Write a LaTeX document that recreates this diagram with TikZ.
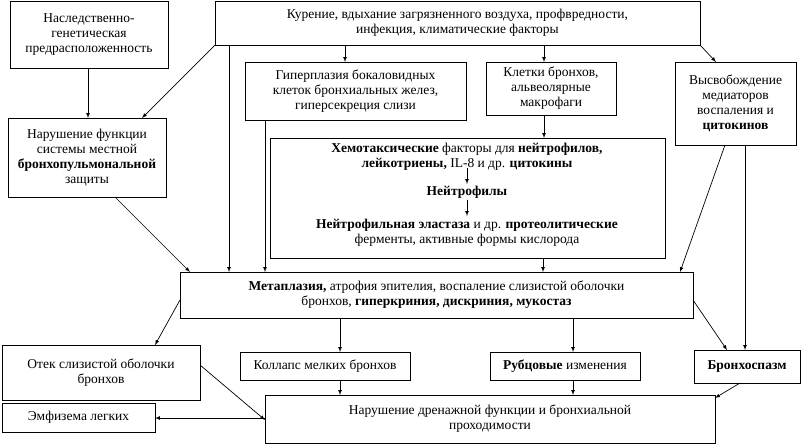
\documentclass[tikz,border=0pt]{standalone}
\usepackage{fontspec}
\setmainfont{Liberation Serif}
\begin{document}
\begin{tikzpicture}[x=1pt,y=-1pt,
 ar/.style={-latex,line width=0.7pt}]
\def\F{\fontsize{13.5}{15}\selectfont}
\useasboundingbox (0,0) rectangle (808,445);
\def\B#1#2#3#4#5#6{\draw[line width=0.9pt] (#2,#3) rectangle (#4,#5); \node[align=center,font=\F,inner sep=0pt] (#1) at ({(#2+#4)/2},{(#3+#5)/2}) {#6};}
\B{nasl}{10}{1}{168}{68}{Наследственно-\\генетическая\\предрасположенность}
\B{kur}{215}{1}{700}{45}{Курение, вдыхание загрязненного воздуха, профвредности,\\инфекция, климатические факторы}
\B{gip}{245}{62}{466}{120}{Гиперплазия бокаловидных\\клеток бронхиальных желез,\\гиперсекреция слизи}
\B{klet}{486}{62}{616}{115}{Клетки бронхов,\\альвеолярные\\макрофаги}
\B{vys}{675}{62}{796}{145}{Высвобождение\\медиаторов\\воспаления и\\\textbf{цитокинов}}
\B{nar}{8}{118}{166}{197}{Нарушение функции\\системы местной\\\textbf{бронхопульмональной}\\защиты}
\draw[line width=0.9pt] (270,138) rectangle (665,258);
\node[font=\F,align=center,inner sep=0pt] (hem) at (467,157) {\textbf{Хемотаксические} факторы для \textbf{нейтрофилов,}\\\textbf{лейкотриены,} IL-8 и др. \textbf{цитокины}};
\node[font=\F\bfseries,inner sep=0pt] (neu) at (467,192) {Нейтрофилы};
\node[font=\F,align=center,inner sep=0pt] (ela) at (467,233) {\textbf{Нейтрофильная эластаза} и др. \textbf{протеолитические}\\ферменты, активные формы кислорода};
\B{met}{180}{272}{693}{318}{\textbf{Метаплазия,} атрофия эпителия, воспаление слизистой оболочки\\бронхов, \textbf{гиперкриния, дискриния, мукостаз}}
\B{otek}{2}{345}{200}{400}{Отек слизистой оболочки\\бронхов}
\B{kol}{240}{352}{410}{380}{Коллапс мелких бронхов}
\B{rub}{490}{352}{640}{380}{\textbf{Рубцовые} изменения}
\B{bro}{694}{350}{800}{383}{\textbf{Бронхоспазм}}
\B{dre}{265}{395}{715}{443}{Нарушение дренажной функции и бронхиальной\\проходимости}
\B{emf}{2}{403}{155}{432}{Эмфизема легких}
\draw[ar] (88,68) -- (88,118);
\draw[ar] (215,45) -- (142,118);
\draw[ar] (229,45) -- (229,272);
\draw[ar] (345,45) -- (345,62);
\draw[ar] (544,45) -- (544,62);
\draw[ar] (700,45) -- (716,62);
\draw[ar] (544,115) -- (544,138);
\draw[ar] (265,120) -- (265,272);
\draw[ar] (115,197) -- (190,272);
\draw[ar] (543,258) -- (543,272);
\draw[ar] (725,145) -- (680,272);
\draw[ar] (745,145) -- (745,350);
\draw[ar] (467,168) -- (467,184);
\draw[ar] (467,200) -- (467,216);
\draw[ar] (180,300) -- (155,345);
\draw[ar] (340,318) -- (340,352);
\draw[ar] (573,318) -- (573,352);
\draw[ar] (693,300) -- (727,350);
\draw[ar] (200,365) -- (265,420);
\draw[ar] (340,380) -- (340,395);
\draw[ar] (573,380) -- (573,395);
\draw[ar] (740,383) -- (715,398);
\draw[ar] (265,418) -- (155,418);
\end{tikzpicture}
\end{document}
